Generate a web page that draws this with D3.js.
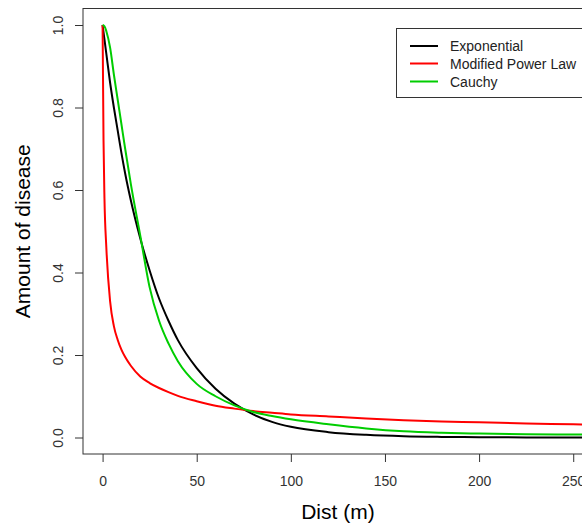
<!DOCTYPE html>
<html>
<head>
<meta charset="utf-8">
<script src="https://cdn.jsdelivr.net/npm/d3@7"></script>
<style>
  body { margin: 0; background: #fff; }
  svg { display: block; font-family: "Liberation Sans", Arial, sans-serif; }
</style>
</head>
<body>
<svg id="chart" width="582" height="527"></svg>
<script>
const dist = [0, 0.5, 1, 2, 4, 6, 8, 10, 12, 15, 20, 25, 30, 35, 40, 50, 60, 70, 80, 90, 100,
              120, 140, 160, 180, 200, 225, 250, 260];

const exponential = [1.0, 0.982, 0.965, 0.93, 0.86, 0.80, 0.745, 0.69, 0.64, 0.575, 0.483, 0.405,
                     0.337, 0.283, 0.236, 0.168, 0.118, 0.082, 0.056, 0.038, 0.026,
                     0.013, 0.0065, 0.003, 0.0015, 0.0008, 0.0003, 0.0001, 0.0001];

const powerLaw = [1.0, 0.72, 0.58, 0.46, 0.33, 0.27, 0.237, 0.213, 0.195, 0.174, 0.148, 0.132,
                  0.12, 0.11, 0.101, 0.088, 0.077, 0.07, 0.064, 0.06, 0.056,
                  0.051, 0.046, 0.042, 0.039, 0.037, 0.034, 0.032, 0.031];

const cauchy = [1.0, 0.999, 0.997, 0.985, 0.945, 0.88, 0.82, 0.76, 0.70, 0.615, 0.49, 0.364,
                0.283, 0.228, 0.185, 0.13, 0.1, 0.078, 0.062, 0.052, 0.044,
                0.032, 0.022, 0.015, 0.0115, 0.0095, 0.008, 0.0073, 0.007];

const seriesNames = ["Exponential", "Modified Power Law", "Cauchy"];
const seriesColors = ["#000000", "#ff0000", "#00cd00"];
const xTicks = [0, 50, 100, 150, 200, 250];
const yTicks = [0.0, 0.2, 0.4, 0.6, 0.8, 1.0];

const svg = d3.select("#chart");

// plot region (R style, 4% padding on each side)
let margin = {left: 83, right: 592.8, top: 8.5, bottom: 454};

let x = d3.scaleLinear().domain([-10.4, 260.4]).range([margin.left, margin.right]);
let y = d3.scaleLinear().domain([-0.04, 1.04]).range([margin.bottom, margin.top]);

// axes
let xAxis = d3.axisBottom(x).tickValues(xTicks).tickSize(8).tickPadding(14)
    .tickFormat(d3.format("d"));
let yAxis = d3.axisLeft(y).tickValues(yTicks).tickSize(8)
    .tickFormat(d3.format(".1f"));

let gx = svg.append("g")
    .attr("transform", "translate(0," + margin.bottom + ")")
    .call(xAxis);
gx.select(".domain").remove();
gx.selectAll("line").attr("stroke", "#333");
gx.selectAll("text")
    .attr("fill", "#333")
    .style("font-size", "14px")
    .style("font-family", "Liberation Sans, Arial, sans-serif");

let gy = svg.append("g")
    .attr("transform", "translate(" + margin.left + ",0)")
    .call(yAxis);
gy.select(".domain").remove();
gy.selectAll("line").attr("stroke", "#333");
// R writes the y labels turned, centred on the tick
gy.selectAll("text")
    .attr("fill", "#333")
    .attr("x", 0).attr("y", 0).attr("dy", null)
    .style("font-size", "14px")
    .style("font-family", "Liberation Sans, Arial, sans-serif")
    .style("text-anchor", "middle")
    .attr("transform", "translate(" + (63 - margin.left) + ",0) rotate(-90)");

// box
svg.append("rect")
    .attr("x", margin.left).attr("y", margin.top)
    .attr("width", margin.right - margin.left).attr("height", margin.bottom - margin.top)
    .attr("fill", "none").attr("stroke", "#333").attr("stroke-width", 1);

// curves
let line = d3.line()
    .x(d => x(d[0]))
    .y(d => y(d[1]))
    .curve(d3.curveMonotoneX);

[exponential, powerLaw, cauchy].forEach((vals, i) => {
    svg.append("path")
        .datum(dist.map((d, j) => [d, vals[j]]))
        .attr("fill", "none")
        .attr("stroke", seriesColors[i])
        .attr("stroke-width", 2)
        .attr("d", line);
});

// axis titles
svg.append("text")
    .attr("x", (margin.left + margin.right) / 2).attr("y", 519)
    .attr("text-anchor", "middle")
    .style("font-size", "21px")
    .text("Dist (m)");

svg.append("text")
    .attr("transform", "translate(30," + ((margin.top + margin.bottom) / 2) + ") rotate(-90)")
    .attr("text-anchor", "middle")
    .style("font-size", "21px")
    .text("Amount of disease");

// legend
let legend = svg.append("g");
legend.append("rect")
    .attr("x", 396.5).attr("y", 28.5)
    .attr("width", margin.right - 396.5).attr("height", 69)
    .attr("fill", "#fff").attr("stroke", "#333");

let rowY = [46, 63.5, 81.5];
seriesNames.forEach((name, i) => {
    legend.append("line")
        .attr("x1", 410).attr("x2", 438)
        .attr("y1", rowY[i]).attr("y2", rowY[i])
        .attr("stroke", seriesColors[i]).attr("stroke-width", 2);
    legend.append("text")
        .attr("x", 450).attr("y", rowY[i] + 5)
        .style("font-size", "14px")
        .attr("fill", "#222")
        .text(name);
});
</script>
</body>
</html>
